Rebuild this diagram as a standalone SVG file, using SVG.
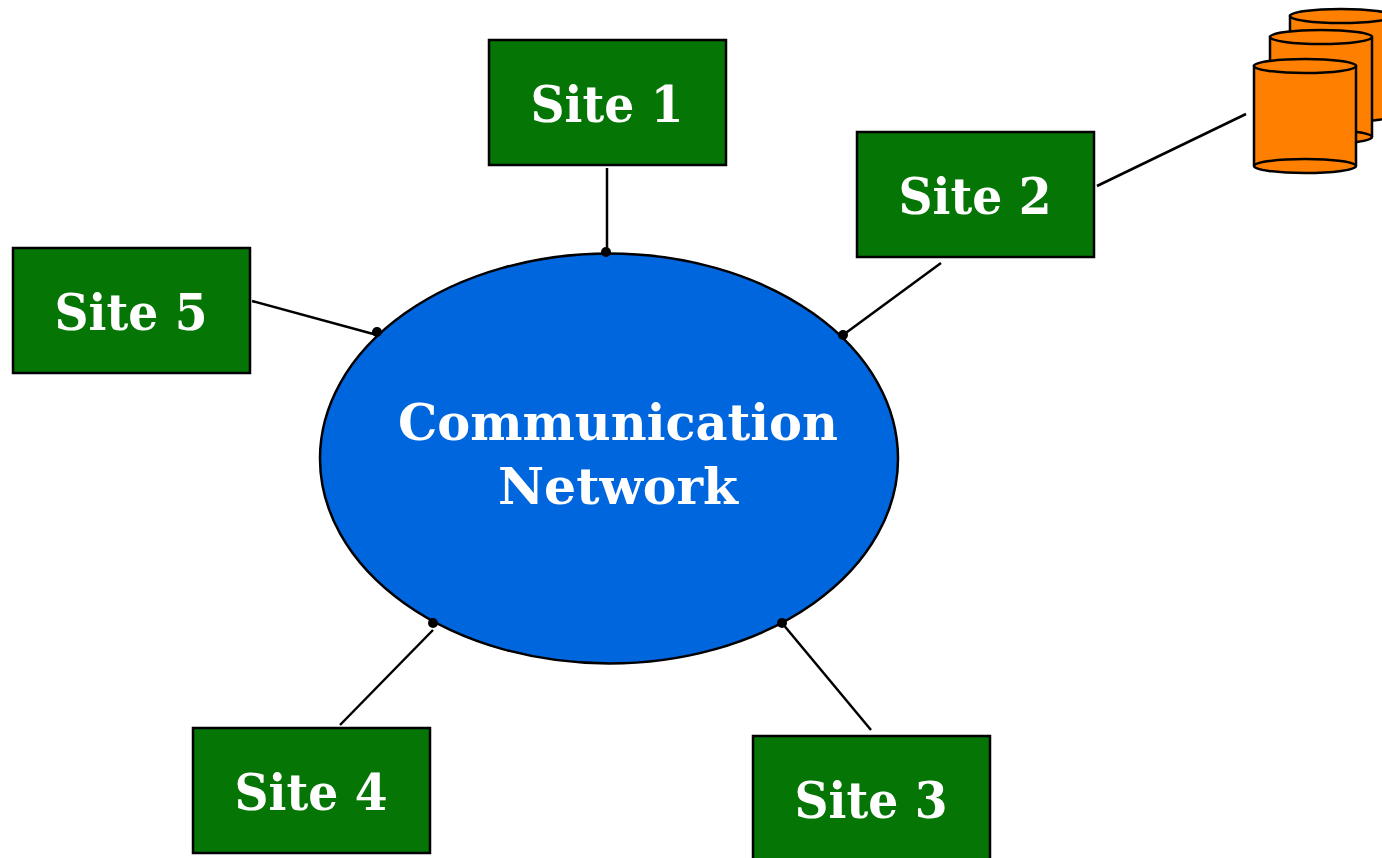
<svg xmlns="http://www.w3.org/2000/svg" width="1382" height="858" viewBox="0 0 1382 858">
<style>
.site{fill:#057505;stroke:#000;stroke-width:2.500}
.t{font-family:"DejaVu Serif","Liberation Serif",serif;font-weight:bold;fill:#fff;font-size:50px;text-anchor:middle}
.c{stroke:#000;stroke-width:2.500;fill:none}
.d{fill:#000;stroke:none}
.cy{fill:#ff8000;stroke:#000;stroke-width:2.500}
</style>
<rect width="1382" height="858" fill="#fff"/>
<g id="connectors">
<line class="c" x1="607" y1="168" x2="607" y2="252"/>
<line class="c" x1="941" y1="263" x2="843" y2="335"/>
<line class="c" x1="871" y1="730" x2="782" y2="623"/>
<line class="c" x1="340" y1="725" x2="433" y2="630"/>
<line class="c" x1="252" y1="301" x2="377" y2="335"/>
<line class="c" x1="1097" y1="186" x2="1246" y2="114"/>
</g>
<g id="network"><ellipse cx="609" cy="458.500" rx="289" ry="205" fill="#0066dd" stroke="#000" stroke-width="2.500"/>
<text class="t" x="618" y="440" textLength="440" lengthAdjust="spacingAndGlyphs">Communication</text><text class="t" x="618" y="504" textLength="240" lengthAdjust="spacingAndGlyphs">Network</text>
<circle class="d" cx="606" cy="252" r="5"/><circle class="d" cx="843" cy="335" r="5"/><circle class="d" cx="782" cy="623" r="5"/><circle class="d" cx="433" cy="623" r="5"/><circle class="d" cx="377" cy="332" r="5"/></g>
<g id="site1"><rect class="site" x="489" y="40" width="237" height="125"/><text class="t" x="607" y="122" textLength="153" lengthAdjust="spacingAndGlyphs">Site 1</text></g>
<g id="site2"><rect class="site" x="857" y="132" width="237" height="125"/><text class="t" x="975" y="214" textLength="153" lengthAdjust="spacingAndGlyphs">Site 2</text></g>
<g id="site3"><rect class="site" x="753" y="736" width="237" height="125"/><text class="t" x="871" y="818" textLength="153" lengthAdjust="spacingAndGlyphs">Site 3</text></g>
<g id="site4"><rect class="site" x="193" y="728" width="237" height="125"/><text class="t" x="311" y="810" textLength="153" lengthAdjust="spacingAndGlyphs">Site 4</text></g>
<g id="site5"><rect class="site" x="13" y="248" width="237" height="125"/><text class="t" x="131" y="330" textLength="153" lengthAdjust="spacingAndGlyphs">Site 5</text></g>
<g id="storage">
<path class="cy" d="M1290 16V115A51 7 0 0 0 1392 115V16Z"/><ellipse class="cy" cx="1341" cy="16" rx="51" ry="7"/>
<path class="cy" d="M1270 37V137A51 7 0 0 0 1372 137V37Z"/><ellipse class="cy" cx="1321" cy="37" rx="51" ry="7"/><path class="c" d="M1270 137A51 7 0 0 1 1372 137"/>
<path class="cy" d="M1254 66V166A51 7 0 0 0 1356 166V66Z"/><ellipse class="cy" cx="1305" cy="66" rx="51" ry="7"/><path class="c" d="M1254 166A51 7 0 0 1 1356 166"/>
</g>
</svg>
